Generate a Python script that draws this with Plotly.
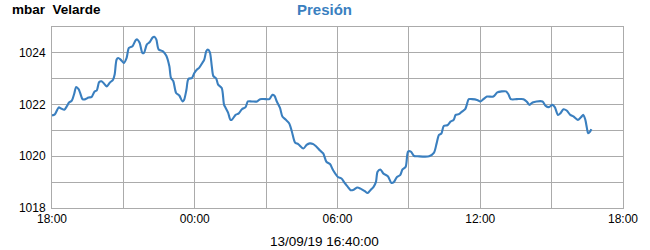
import plotly.graph_objects as go
import pandas as pd

station = "Velarde"
unit = "mbar"
title_text = "Presión"
stamp = "13/09/19 16:40:00"
start_day = "2019-09-12"

times = ["18:00","18:07","18:17","18:23","18:31","18:38","18:43","18:50","18:56","19:01",
         "19:07","19:11","19:17","19:23","19:32","19:40","19:47","19:53","19:59","20:05",
         "20:12","20:18","20:26","20:34","20:38","20:43","20:47","20:53","21:01","21:08",
         "21:14","21:23","21:31","21:35","21:41","21:48","21:52","21:59","22:06","22:13",
         "22:18","22:23","22:29","22:39","22:48","22:56","23:00","23:06","23:13","23:21",
         "23:29","23:33","23:39","23:44","23:53","23:59","00:05","00:11","00:19","00:24",
         "00:29","00:33","00:38","00:43","00:47","00:54","00:59","01:08","01:14","01:18",
         "01:24","01:30","01:34","01:43","01:51","01:59","02:08","02:14","02:24","02:37",
         "02:45","02:58","03:08","03:16","03:21","03:27","03:35","03:41","03:49","03:58",
         "04:05","04:13","04:21","04:34","04:42","04:50","04:59","05:07","05:16","05:24",
         "05:32","05:41","05:49","06:01","06:10","06:18","06:26","06:33","06:41","06:50",
         "06:58","07:08","07:16","07:23","07:31","07:37","07:41","07:48","07:56","08:07",
         "08:16","08:22","08:30","08:38","08:44","08:52","08:58","09:05","09:13","09:22",
         "09:51","10:03","10:10","10:16","10:22","10:28","10:37","10:45","10:53","10:58",
         "11:06","11:14","11:22","11:26","11:31","11:39","11:52","12:00","12:08","12:17",
         "12:33","12:43","12:54","13:05","13:11","13:17","13:32","13:49","13:57","14:04",
         "14:12","14:22","14:37","14:45","14:53","15:02","15:08","15:16","15:22","15:30",
         "15:38","15:47","15:55","16:06","16:14","16:20","16:25","16:29","16:32","16:37",
         "16:40"]

pressure = [1021.58,1021.62,1021.89,1021.85,1021.80,1021.95,1022.08,1022.15,1022.42,1022.68,
            1022.60,1022.45,1022.21,1022.20,1022.27,1022.30,1022.50,1022.55,1022.87,1022.90,
            1022.80,1022.70,1022.85,1022.96,1023.16,1023.74,1023.80,1023.74,1023.61,1023.80,
            1024.19,1024.26,1024.49,1024.52,1024.39,1024.00,1024.00,1024.32,1024.41,1024.58,
            1024.62,1024.52,1024.13,1024.07,1023.90,1023.48,1023.03,1022.90,1022.45,1022.35,
            1022.12,1022.18,1022.57,1022.99,1023.03,1023.22,1023.35,1023.42,1023.61,1023.74,
            1024.06,1024.13,1024.03,1023.48,1023.10,1023.01,1022.77,1022.64,1021.99,1021.87,
            1021.69,1021.41,1021.42,1021.60,1021.66,1021.82,1021.90,1022.12,1022.12,1022.12,
            1022.21,1022.21,1022.21,1022.38,1022.34,1022.12,1021.87,1021.54,1021.42,1021.28,
            1020.95,1020.53,1020.47,1020.30,1020.44,1020.50,1020.47,1020.37,1020.22,1020.11,
            1019.79,1019.70,1019.46,1019.20,1019.14,1018.97,1018.82,1018.69,1018.71,1018.79,
            1018.75,1018.66,1018.58,1018.69,1018.82,1019.01,1019.40,1019.49,1019.33,1019.23,
            1018.97,1019.00,1019.20,1019.27,1019.49,1019.60,1020.18,1020.18,1020.01,1020.00,
            1020.00,1020.13,1020.50,1020.83,1020.88,1021.17,1021.20,1021.34,1021.41,1021.60,
            1021.63,1021.73,1021.82,1021.99,1022.21,1022.21,1022.18,1022.12,1022.21,1022.31,
            1022.31,1022.47,1022.51,1022.51,1022.40,1022.21,1022.21,1022.21,1022.12,1021.99,
            1022.08,1022.12,1022.12,1021.95,1021.90,1021.99,1021.90,1021.60,1021.66,1021.82,
            1021.77,1021.60,1021.54,1021.41,1021.51,1021.60,1021.41,1021.09,1020.89,1020.95,
            1021.05]

# build timestamps (day rolls over after midnight)
base = pd.Timestamp(start_day)
x = []
day = 0
prev = None
for t in times:
    h, m = map(int, t.split(":"))
    if prev is not None and h < prev:
        day = 1
    prev = h
    x.append(base + pd.Timedelta(days=day, hours=h, minutes=m))

fig = go.Figure()
fig.add_trace(go.Scatter(
    x=x, y=pressure, mode="lines",
    line=dict(color="#3a7fbf", width=2.1, shape="spline", smoothing=0.8),
    hoverinfo="skip", showlegend=False))

font_family = "Liberation Sans, Arial, sans-serif"
grid_color = "#ababab"

fig.update_layout(
    width=650, height=250,
    margin=dict(l=52, r=23, t=27, b=42),
    paper_bgcolor="white", plot_bgcolor="white",
    font=dict(family=font_family, size=12, color="black"),
    xaxis=dict(
        range=[base + pd.Timedelta(hours=18), base + pd.Timedelta(hours=42)],
        tick0=base + pd.Timedelta(hours=18), dtick=6 * 3600000,
        tickformat="%H:%M", showgrid=True, gridcolor=grid_color, gridwidth=1,
        minor=dict(dtick=3 * 3600000, tick0=base + pd.Timedelta(hours=18), showgrid=True,
                   gridcolor=grid_color, gridwidth=1),
        showline=True, linecolor=grid_color, linewidth=1, mirror=True,
        ticks="", ticklabelstandoff=0, tickfont=dict(size=12),
        zeroline=False, fixedrange=True),
    yaxis=dict(
        range=[1018, 1025], tick0=1018, dtick=2,
        showgrid=True, gridcolor=grid_color, gridwidth=1,
        minor=dict(dtick=1, showgrid=True, gridcolor=grid_color, gridwidth=1),
        showline=True, linecolor=grid_color, linewidth=1, mirror=True,
        ticks="", ticklabelstandoff=3, tickfont=dict(size=12),
        zeroline=False, fixedrange=True),
    annotations=[
        dict(text=f"<b>{unit}  {station}</b>", xref="paper", yref="paper",
             x=-42/575, y=1 + 18/181, xanchor="left", yanchor="middle",
             showarrow=False, font=dict(size=13.5, color="black", family=font_family)),
        dict(text=f"<b>{title_text}</b>", x=0.5, xref="paper", yref="paper",
             y=1 + 18/181, xanchor="center", yanchor="middle", xshift=-13,
             showarrow=False, font=dict(size=15, color="#3a7fbf", family=font_family)),
        dict(text=stamp, xref="paper", yref="paper", x=0.5, xshift=-13,
             y=-33/181, xanchor="center", yanchor="middle",
             showarrow=False, font=dict(size=13.5, color="black", family=font_family)),
    ],
)

fig.write_html("out.html")
